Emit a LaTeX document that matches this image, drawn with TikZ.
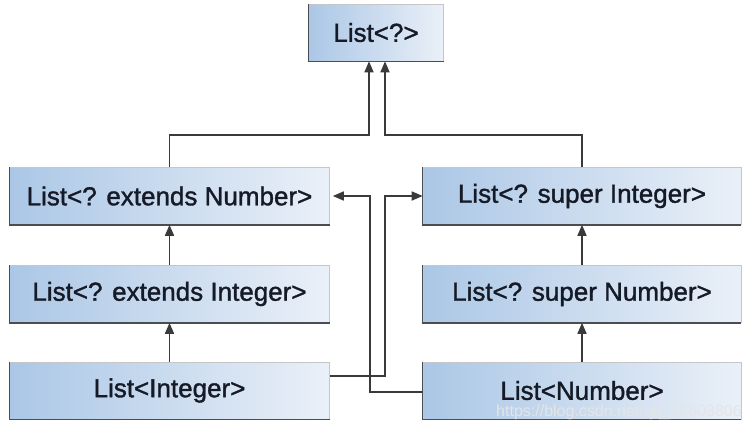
\documentclass[tikz,border=0pt]{standalone}
\usepackage{fontspec}
\setmainfont{Liberation Sans}
\newfontfamily\boxfont[FakeBold=1.3]{Liberation Sans}
\usetikzlibrary{arrows.meta}
\definecolor{boxdark}{HTML}{ABC7E6}
\definecolor{boxlight}{HTML}{EAF0F8}
\definecolor{txt}{HTML}{151A26}
\definecolor{edge}{HTML}{4A4D52}
\definecolor{conncol}{HTML}{3A3A3A}
\tikzset{
  tbox/.style={rectangle, left color=boxdark, right color=boxlight, draw=gray!45, line width=0.6pt,
    minimum height=57pt, inner sep=0pt, text=txt, font=\boxfont\fontsize{26}{30}\selectfont},
  wide/.style={tbox, minimum width=320pt},
  conn/.style={draw=conncol, line width=1.6pt, -{Triangle[length=11pt,width=9pt]}},
  shade edge/.style={draw=edge, line width=1.4pt}
}
\begin{document}
\begin{tikzpicture}[x=1pt,y=-1pt]
\useasboundingbox (0,0) rectangle (751,432);
\fill[white] (0,0) rectangle (751,432);
\node[tbox, minimum width=135pt] (top) at (376,32.5) {List<?>};
\node[wide] (LN) at (169.5,196) {List<? extends Number>};
\node[wide] (LI) at (169.5,294) {List<? extends Integer>};
\node[wide] (Lint) at (169.5,390.5) {List<Integer>};
\node[wide, minimum width=318pt] (SI) at (582,196) {List<? super Integer>};
\node[wide, minimum width=318pt] (SN) at (582,294) {List<? super Number>};
\node[wide, minimum width=318pt] (Num) at (582,390.5) {List<Number>};
\foreach \n in {top,LN,LI,Lint,SI,SN,Num}{
  \draw[shade edge] (\n.north west) -- (\n.south west) -- (\n.south east);
}
% left column
\draw[conn] (LI.north) -- (LN.south);
\draw[conn] (Lint.north) -- (LI.south);
% right column
\draw[conn] (SN.north) -- (SI.south);
\draw[conn] (Num.north) -- (SN.south);
% to top
\draw[conn] (LN.north) -- ++(0,-32) -| ([xshift=-7pt]top.south);
\draw[conn] (SI.north) -- ++(0,-32) -| ([xshift=9pt]top.south);
% crossing connectors
\draw[conn] ([yshift=14.5pt]Lint.east) -- ++(55,0) |- (SI.west);
\draw[conn] ([yshift=-1.5pt]Num.west) -- ++(-53,0) |- ([xshift=3pt]LN.east);
% watermark
\node[font=\fontsize{16}{18}\selectfont, text=white!80!gray, inner sep=0pt] (wm) at (619,412) {https://blog.csdn.net/qq\_52603806};
\end{tikzpicture}
\end{document}
